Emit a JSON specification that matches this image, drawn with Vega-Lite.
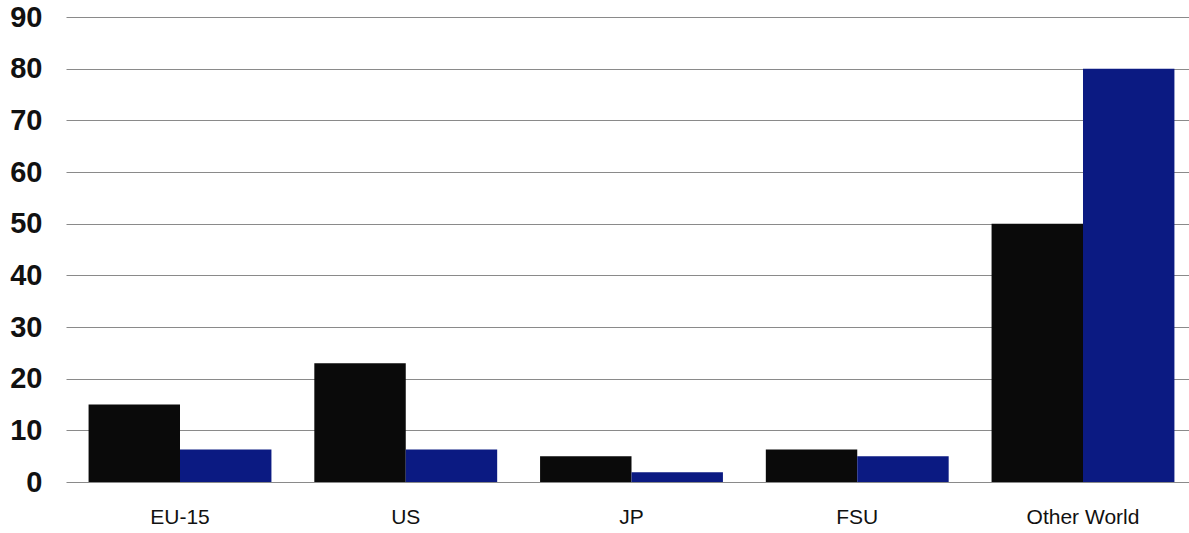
{
  "$schema": "https://vega.github.io/schema/vega-lite/v6.json",
  "autosize": "none",
  "width": 1131,
  "height": 465,
  "padding": {"left": 66, "top": 17, "right": 0, "bottom": 51},
  "background": "white",
  "config": {
    "view": {"stroke": null},
    "font": "Liberation Sans"
  },
  "data": {
    "values": [
      {"region": "EU-15", "series": "A", "value": 15},
      {"region": "EU-15", "series": "B", "value": 6.3},
      {"region": "US", "series": "A", "value": 23},
      {"region": "US", "series": "B", "value": 6.3},
      {"region": "JP", "series": "A", "value": 5},
      {"region": "JP", "series": "B", "value": 1.9},
      {"region": "FSU", "series": "A", "value": 6.3},
      {"region": "FSU", "series": "B", "value": 5},
      {"region": "Other World", "series": "A", "value": 50},
      {"region": "Other World", "series": "B", "value": 80}
    ]
  },
  "mark": {"type": "bar"},
  "encoding": {
    "x": {
      "field": "region",
      "type": "nominal",
      "sort": ["EU-15", "US", "JP", "FSU", "Other World"],
      "scale": {"paddingInner": 0.19, "paddingOuter": 0.1},
      "axis": {
        "title": null,
        "labelAngle": 0,
        "domain": false,
        "ticks": false,
        "labelFontSize": 21,
        "labelColor": "#111111",
        "labelPadding": 24
      }
    },
    "xOffset": {"field": "series", "type": "nominal", "scale": {"paddingInner": 0, "paddingOuter": 0}},
    "y": {
      "field": "value",
      "type": "quantitative",
      "scale": {"domain": [0, 90], "nice": false},
      "axis": {
        "title": null,
        "values": [0, 10, 20, 30, 40, 50, 60, 70, 80, 90],
        "domain": false,
        "ticks": false,
        "labelFontSize": 29,
        "labelFontWeight": "bold",
        "labelColor": "#111111",
        "labelPadding": 24,
        "gridColor": "#8a8a8a",
        "gridWidth": 1
      }
    },
    "color": {
      "field": "series",
      "type": "nominal",
      "scale": {"domain": ["A", "B"], "range": ["#0a0a0a", "#0b1a82"]},
      "legend": null
    }
  }
}
